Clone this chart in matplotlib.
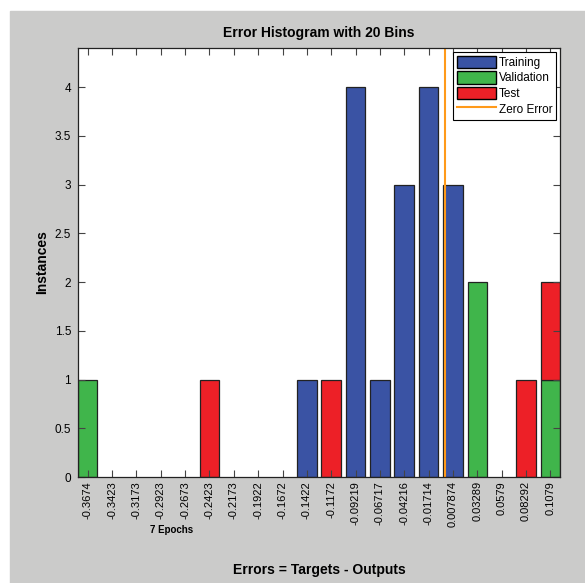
import numpy as np
import matplotlib

matplotlib.use("Agg")
import matplotlib.pyplot as plt
from matplotlib.patches import Patch, Rectangle
from matplotlib.lines import Line2D

plt.rcParams["font.family"] = ["Liberation Sans", "DejaVu Sans"]

# bin centres (as printed on the x axis) and counts per data split
BIN_LABELS = ["-0.3674", "-0.3423", "-0.3173", "-0.2923", "-0.2673",
              "-0.2423", "-0.2173", "-0.1922", "-0.1672", "-0.1422",
              "-0.1172", "-0.09219", "-0.06717", "-0.04216", "-0.01714",
              "0.007874", "0.03289", "0.0579", "0.08292", "0.1079"]
TRAINING = [0, 0, 0, 0, 0, 0, 0, 0, 0, 1, 0, 4, 1, 3, 4, 3, 0, 0, 0, 0]
VALIDATION = [1, 0, 0, 0, 0, 0, 0, 0, 0, 0, 0, 0, 0, 0, 0, 0, 2, 0, 0, 1]
TEST = [0, 0, 0, 0, 0, 1, 0, 0, 0, 0, 1, 0, 0, 0, 0, 0, 0, 0, 1, 1]

BLUE = "#3a53a4"
GREEN = "#40b54b"
RED = "#ed2027"
ORANGE = "#ff9a1a"
GRAY = "#cbcbca"

W, H = 585, 583

centers = np.array([float(s) for s in BIN_LABELS])
step = (centers[-1] - centers[0]) / (len(centers) - 1)
width = 0.8 * step
train = np.array(TRAINING)
val = np.array(VALIDATION)
test = np.array(TEST)

fig = plt.figure(figsize=(W / 100, H / 100), dpi=100, facecolor="white")
fig.patches.append(Rectangle((10 / W, 0), 1 - 10 / W, 1 - 11 / H,
                             transform=fig.transFigure, color=GRAY,
                             zorder=-10))

ax = fig.add_axes([78 / W, 1 - 477 / H, (560 - 78) / W, (477 - 48) / H])
ax.set_facecolor("white")


def stacked(counts, bottom, color):
    # skip empty bins so no flat outline is drawn on the baseline
    keep = counts > 0
    ax.bar(centers[keep], counts[keep], width, bottom=bottom[keep],
           color=color, edgecolor="#222222", linewidth=0.9)


zeros = np.zeros_like(train)
stacked(train, zeros, BLUE)
stacked(val, train, GREEN)
stacked(test, train + val, RED)
ax.axvline(0, color=ORANGE, lw=1.5)

ax.set_xlim(centers[0] - width / 2, centers[-1] + width / 2)
ax.set_ylim(0, 4.4)
ax.set_xticks(centers)
ax.set_xticklabels(BIN_LABELS, rotation=90, fontsize=8)
ax.set_yticks(np.arange(0, 4.01, 0.5))
ax.set_yticklabels(["0", "0.5", "1", "1.5", "2", "2.5", "3", "3.5", "4"],
                   fontsize=8.5)
ax.tick_params(direction="in", top=True, right=True, length=5, width=0.8,
               color="#444444", pad=3)
ax.tick_params(axis="y", pad=5)
for sp in ax.spines.values():
    sp.set_color("#222222")
    sp.set_linewidth(0.9)

handles = [Patch(facecolor=BLUE, edgecolor="black", label="Training"),
           Patch(facecolor=GREEN, edgecolor="black", label="Validation"),
           Patch(facecolor=RED, edgecolor="black", label="Test"),
           Line2D([], [], color=ORANGE, lw=1.5, label="Zero Error")]
leg = ax.legend(handles=handles, loc="upper right", fontsize=8.5,
                fancybox=False, framealpha=1, edgecolor="black",
                borderaxespad=0.3, handlelength=3.3, handleheight=1.25,
                handletextpad=0.25, labelspacing=0.2, borderpad=0.35)
leg.get_frame().set_linewidth(0.8)

fig.text(319 / W, 1 - 33 / H, "Error Histogram with 20 Bins",
         ha="center", va="center", fontsize=10, fontweight="bold")
fig.text(319 / W, 1 - 570 / H, "Errors = Targets - Outputs",
         ha="center", va="center", fontsize=10, fontweight="bold")
fig.text(42 / W, 1 - 262 / H, "Instances", rotation=90,
         ha="center", va="center", fontsize=10, fontweight="bold")
fig.text(172 / W, 1 - 530 / H, "7 Epochs", ha="center", va="center",
         fontsize=7, fontweight="bold")

fig.savefig("out.png", dpi=100, facecolor=fig.get_facecolor())
